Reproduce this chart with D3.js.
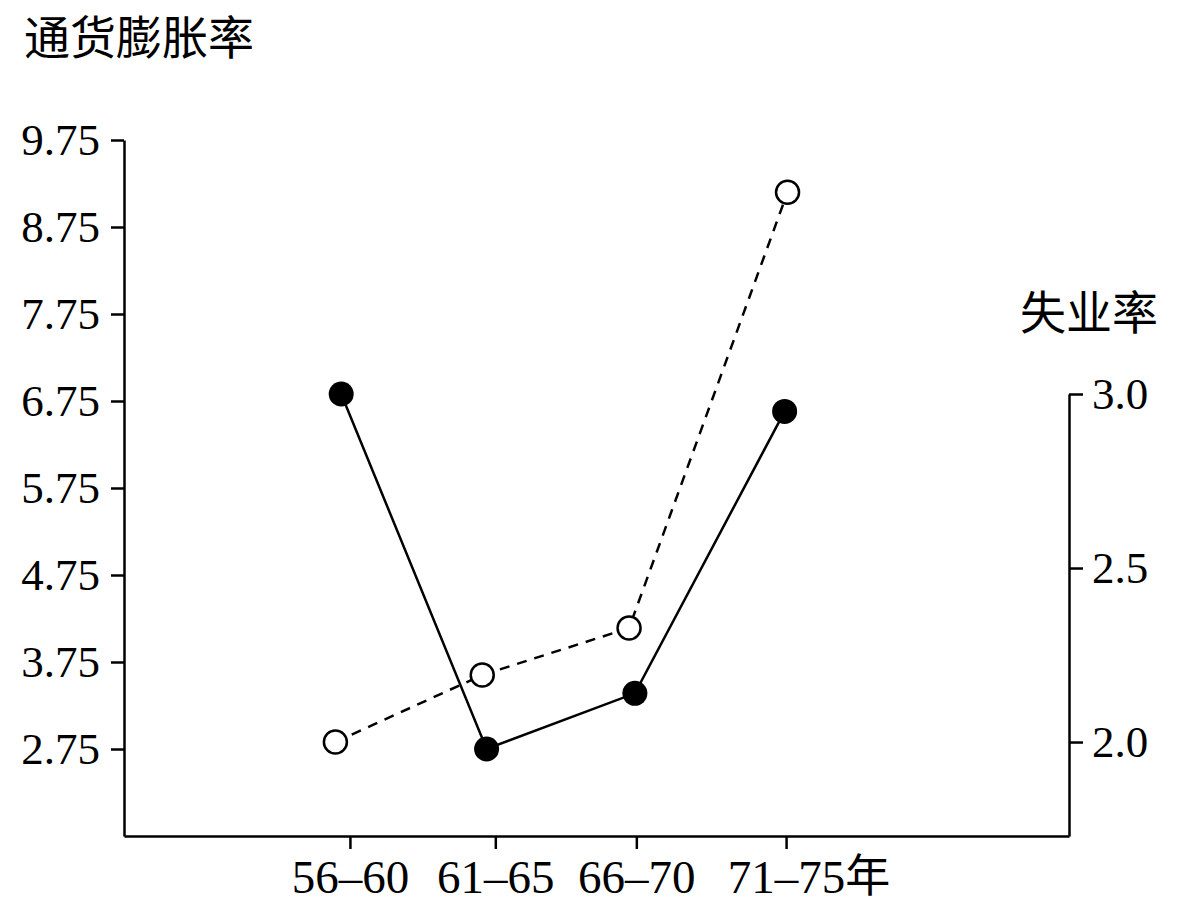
<!DOCTYPE html>
<html>
<head>
<meta charset="utf-8">
<script src="https://cdn.jsdelivr.net/npm/d3@7"></script>
<style>
  body { margin: 0; background: #fff; }
  svg { display: block; }
</style>
</head>
<body>
<div id="graph"></div>
<script>
// period labels and where their ticks sit (period midpoint years)
let periods = ['56–60', '61–65', '66–70', '71–75'];
let periodX = [58, 63, 67.85, 73];

// inflation (left axis), open circles, dashed line
let inflationX = [57.5, 62.55, 67.6, 73.05];
let inflation = [2.83, 3.6, 4.14, 9.15];

// unemployment (right axis), filled circles, solid line
let unemploymentX = [57.7, 62.7, 67.8, 72.95];
let unemployment = [3.0, 1.98, 2.14, 2.95];

let leftTicks = [2.75, 3.75, 4.75, 5.75, 6.75, 7.75, 8.75, 9.75];
let rightTicks = [2.0, 2.5, 3.0];

let width = 1180, height = 909;
let serif = '"Liberation Serif", "Times New Roman", "Noto Sans CJK SC", serif';
let cjk = '"Noto Sans CJK SC", "Liberation Serif", sans-serif';

let svg = d3.select('div#graph').append('svg')
  .attr('width', width)
  .attr('height', height);

svg.append('rect').attr('width', width).attr('height', height).attr('fill', '#fff');

let x = d3.scaleLinear().domain([50.23, 82.73]).range([124, 1069]);
let yLeft = d3.scaleLinear().domain([1.75, 9.75]).range([836, 140]);
let yRight = d3.scaleLinear().domain([1.73, 3.0]).range([836, 394]);

function styleAxis(g, size) {
  g.select('.domain').attr('stroke', '#000').attr('stroke-width', 2.5);
  g.selectAll('.tick line').attr('stroke', '#000').attr('stroke-width', 2.5);
  g.selectAll('.tick text')
    .attr('fill', '#000')
    .style('font-family', serif)
    .style('font-size', size + 'px');
}

let leftAxis = svg.append('g')
  .attr('transform', 'translate(' + x.range()[0] + ',0)')
  .call(d3.axisLeft(yLeft).tickValues(leftTicks).tickFormat(d3.format('.2f'))
    .tickSize(13).tickSizeOuter(0).tickPadding(11));
styleAxis(leftAxis, 45);

let rightAxis = svg.append('g')
  .attr('transform', 'translate(' + x.range()[1] + ',0)')
  .call(d3.axisRight(yRight).tickValues(rightTicks).tickFormat(d3.format('.1f'))
    .tickSize(14).tickSizeOuter(0).tickPadding(9));
styleAxis(rightAxis, 45);

let bottomAxis = svg.append('g')
  .attr('transform', 'translate(0,' + yLeft.range()[0] + ')')
  .call(d3.axisBottom(x).tickValues(periodX)
    .tickFormat(function(d, i){ return periods[i]; })
    .tickSize(13).tickSizeOuter(0).tickPadding(11));
styleAxis(bottomAxis, 47);

// the unit 年 trails the last period label
let lastTick = bottomAxis.selectAll('.tick').filter(function(d, i){ return i === periods.length - 1; });
let lastText = lastTick.select('text');
let halfW = lastText.node().getComputedTextLength() / 2;
lastTick.append('text')
  .attr('x', halfW)
  .attr('y', lastText.attr('y'))
  .attr('dy', lastText.attr('dy'))
  .attr('text-anchor', 'start')
  .attr('fill', '#000')
  .style('font-family', cjk)
  .style('font-size', '45px')
  .text('年');

// axis titles
svg.append('text')
  .attr('x', 24).attr('y', 34)
  .attr('dominant-baseline', 'central')
  .style('font-family', cjk)
  .style('font-size', '46px')
  .attr('fill', '#000')
  .text('通货膨胀率');

svg.append('text')
  .attr('x', 1158).attr('y', 309)
  .attr('dominant-baseline', 'central')
  .attr('text-anchor', 'end')
  .style('font-family', cjk)
  .style('font-size', '46px')
  .attr('fill', '#000')
  .text('失业率');

// series
let inflationPts = inflation.map(function(v, i){ return [inflationX[i], v]; });
let unemploymentPts = unemployment.map(function(v, i){ return [unemploymentX[i], v]; });

let lineLeft = d3.line()
  .x(function(d){ return x(d[0]); })
  .y(function(d){ return yLeft(d[1]); });
let lineRight = d3.line()
  .x(function(d){ return x(d[0]); })
  .y(function(d){ return yRight(d[1]); });

svg.append('path')
  .attr('d', lineLeft(inflationPts))
  .attr('fill', 'none')
  .attr('stroke', '#000')
  .attr('stroke-width', 2.5)
  .attr('stroke-dasharray', '10,8');

svg.append('path')
  .attr('d', lineRight(unemploymentPts))
  .attr('fill', 'none')
  .attr('stroke', '#000')
  .attr('stroke-width', 2.5);

svg.append('g').selectAll('circle')
  .data(inflationPts)
  .enter()
  .append('circle')
  .attr('cx', function(d){ return x(d[0]); })
  .attr('cy', function(d){ return yLeft(d[1]); })
  .attr('r', 11.5)
  .attr('fill', '#fff')
  .attr('stroke', '#000')
  .attr('stroke-width', 2.5);

svg.append('g').selectAll('circle')
  .data(unemploymentPts)
  .enter()
  .append('circle')
  .attr('cx', function(d){ return x(d[0]); })
  .attr('cy', function(d){ return yRight(d[1]); })
  .attr('r', 12.5)
  .attr('fill', '#000');
</script>
</body>
</html>
